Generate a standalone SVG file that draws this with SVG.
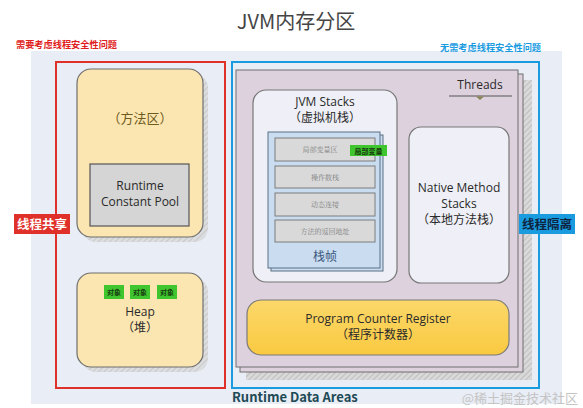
<svg xmlns="http://www.w3.org/2000/svg" width="583" height="408" viewBox="0 0 583 408">
<defs>
<pattern id="hatch" width="4" height="4" patternUnits="userSpaceOnUse" patternTransform="rotate(45)">
<rect width="4" height="4" fill="#d9d9d9"/>
<line x1="0" y1="0" x2="0" y2="4" stroke="#b5b5b5" stroke-width="1.5"/>
</pattern>
<linearGradient id="pcg" x1="0" y1="0" x2="0" y2="1">
<stop offset="0" stop-color="#fcd86a"/>
<stop offset="1" stop-color="#f9c940"/>
</linearGradient>
</defs>
<style>
text{font-family:"Noto Sans CJK SC","Noto Sans","Liberation Sans",sans-serif;}
.lat{font-family:"Open Sans","Noto Sans","Liberation Sans","Noto Sans CJK SC",sans-serif;fill:#2a2a2a;font-size:12px;text-anchor:middle;}
.yel{fill:#fbe5b0;stroke:#6f6f6f;stroke-width:1.2;}
.row{fill:#d9d9d9;stroke:#7c7c7c;stroke-width:1;}
.rowt{font-family:"Noto Serif CJK SC","Noto Sans CJK SC",serif;font-size:7px;fill:#808080;text-anchor:middle;}
.grn{fill:#3fc52e;}
.grnt{font-size:7px;font-weight:bold;fill:#173a10;text-anchor:middle;}
.page{fill:#ddd1de;stroke:#6f6f6f;stroke-width:1;}
</style>
<rect width="583" height="408" fill="#ffffff"/>
<rect x="31" y="51" width="531" height="353" fill="#e9edf5"/>
<text x="296" y="29" font-size="20" fill="#454545" text-anchor="middle" font-family="Noto Sans CJK SC, sans-serif">JVM内存分区</text>
<text x="16" y="48" font-size="9.2" font-weight="bold" fill="#e02020">需要考虑线程安全性问题</text>
<text x="440" y="51" font-size="9.2" font-weight="bold" fill="#1a9be0">无需考虑线程安全性问题</text>

<g id="runtime-data-areas">
<rect x="246" y="80" width="286" height="300" fill="url(#hatch)"/>
<rect x="240" y="74" width="283" height="298" class="page"/>
<rect x="236" y="70" width="282" height="297" class="page"/>
<text x="232" y="402" font-size="13" font-weight="bold" fill="#1e4a55" font-family="Open Sans, Liberation Sans, sans-serif">Runtime Data Areas</text>
</g>

<g id="threads">
<text x="480" y="89" class="lat" font-size="10.5">Threads</text>
<line x1="449" y1="96" x2="512" y2="96" stroke="#555" stroke-width="1"/>
<polygon points="476,96.5 484,96.5 480,100" fill="#8a8650"/>
</g>

<g id="shared-region">
<rect x="56" y="62" width="169" height="326" fill="none" stroke="#e0302a" stroke-width="2"/>
</g>
<g id="isolated-region">
<rect x="232" y="62" width="307" height="326" fill="none" stroke="#1a9be0" stroke-width="2"/>
</g>

<g id="method-area">
<rect x="82" y="74" width="126" height="168" rx="14" fill="url(#hatch)" opacity="0.8"/>
<rect x="77" y="69" width="126" height="168" rx="14" class="yel"/>
<text x="140" y="123" font-size="13" fill="#6b5b1e" text-anchor="middle">（方法区）</text>
</g>
<g id="runtime-constant-pool">
<rect x="90" y="164" width="99" height="62" fill="#d5d5d5" stroke="#555" stroke-width="1.2"/>
<text x="140" y="190" class="lat" font-size="12.5">Runtime</text>
<text x="140" y="206" class="lat" font-size="12.5">Constant Pool</text>
</g>

<g id="heap">
<rect x="82" y="278" width="126" height="94" rx="14" fill="url(#hatch)" opacity="0.8"/>
<rect x="77" y="273" width="126" height="94" rx="14" class="yel"/>
<rect x="104" y="285" width="20" height="14" class="grn"/>
<rect x="130" y="285" width="20" height="14" class="grn"/>
<rect x="157" y="285" width="20" height="14" class="grn"/>
<text x="114" y="295" class="grnt">对象</text>
<text x="140" y="295" class="grnt">对象</text>
<text x="167" y="295" class="grnt">对象</text>
<text x="140" y="316" class="lat">Heap</text>
<text x="140" y="332" class="lat">（堆）</text>
</g>

<g id="label-shared">
<rect x="14" y="214" width="56" height="20" fill="#e0302a"/>
<text x="42" y="229" font-size="12.5" font-weight="bold" fill="#ffffff" text-anchor="middle">线程共享</text>
</g>

<g id="jvm-stacks">
<rect x="253" y="90" width="144" height="192" rx="13" fill="#eff0f7" stroke="#777" stroke-width="1.2"/>
<text x="325" y="106" class="lat" font-size="10.5">JVM Stacks</text>
<text x="325" y="122" class="lat" font-size="10.5">（虚拟机栈）</text>
</g>

<g id="stack-frame">
<rect x="271" y="135" width="112" height="136" fill="#c9dcf0" stroke="#5a6e85" stroke-width="1"/>
<rect x="268" y="132" width="112" height="136" fill="#c9dcf0" stroke="#5a6e85" stroke-width="1"/>
<rect x="275" y="138" width="100" height="23" class="row"/>
<rect x="275" y="166" width="100" height="22" class="row"/>
<rect x="275" y="193" width="100" height="23" class="row"/>
<rect x="275" y="220" width="100" height="22" class="row"/>
<text x="320" y="152" class="rowt">局部变量区</text>
<text x="325" y="180" class="rowt">操作数栈</text>
<text x="325" y="207" class="rowt">动态连接</text>
<text x="325" y="234" class="rowt">方法的返回地址</text>
<rect x="350" y="145" width="37" height="11" class="grn"/>
<text x="368.5" y="153.5" class="grnt" font-size="7.5">局部变量</text>
<text x="325" y="261" font-size="12" fill="#3d5a80" text-anchor="middle">栈帧</text>
</g>

<g id="native-method-stacks">
<rect x="409" y="127" width="100" height="156" rx="12" fill="#eff0f7" stroke="#777" stroke-width="1.2"/>
<text x="459" y="192" class="lat" font-size="12.5">Native Method</text>
<text x="459" y="208" class="lat" font-size="12.5">Stacks</text>
<text x="459" y="224" class="lat">（本地方法栈）</text>
</g>

<g id="label-isolated">
<rect x="519" y="214" width="56" height="20" fill="#1a9be0"/>
<text x="547" y="229" font-size="12.5" font-weight="bold" fill="#0d2340" text-anchor="middle">线程隔离</text>
</g>

<g id="program-counter-register">
<rect x="247" y="300" width="262" height="55" rx="14" fill="url(#pcg)" stroke="#7a7a7a" stroke-width="1.2"/>
<text x="378" y="323" class="lat" font-size="12.5">Program Counter Register</text>
<text x="378" y="339" class="lat">（程序计数器）</text>
</g>

<g id="connectors"></g>

<text x="578" y="403" font-size="13" fill="#c4c4c4" text-anchor="end" font-family="Noto Serif CJK SC, Noto Sans CJK SC, serif">@稀土掘金技术社区</text>
</svg>
